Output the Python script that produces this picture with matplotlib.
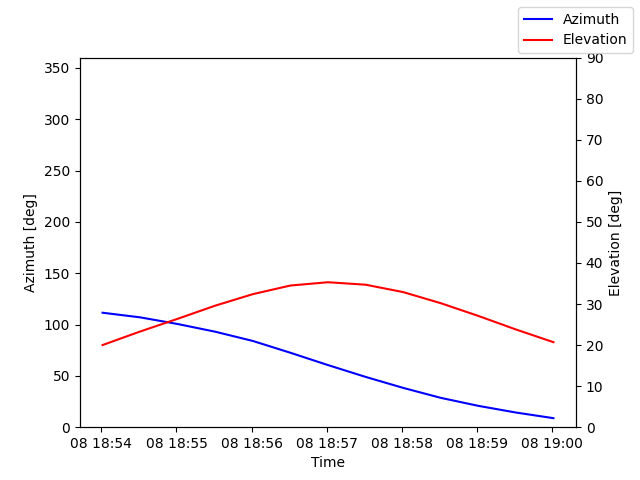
import matplotlib
matplotlib.use("Agg")
import matplotlib.pyplot as plt
import pandas as pd

# 30 s steps, starting just after 18:54
times = pd.date_range("2023-06-08 18:54:01", "2023-06-08 19:00:01", freq="30s")
azimuth = [111.5, 107.0, 100.5, 93.0, 84.0, 72.5, 60.5, 49.0, 38.3, 28.6, 20.8, 14.3, 8.8]
elevation = [20.0, 23.3, 26.4, 29.6, 32.4, 34.5, 35.3, 34.7, 32.9, 30.2, 27.1, 23.8, 20.7]

fig, ax = plt.subplots(figsize=(6.4, 4.8), dpi=100)
ax.plot(times.to_pydatetime(), azimuth, color='b', label='Azimuth')
ax.set_ylim(0, 360)
ax.set_xlabel('Time')
ax.set_ylabel('Azimuth [deg]')

ax2 = ax.twinx()
ax2.plot(times.to_pydatetime(), elevation, color='r', label='Elevation')
ax2.set_ylim(0, 90)
ax2.set_ylabel('Elevation [deg]')

fig.legend(loc='upper right')
fig.savefig('out.png')
